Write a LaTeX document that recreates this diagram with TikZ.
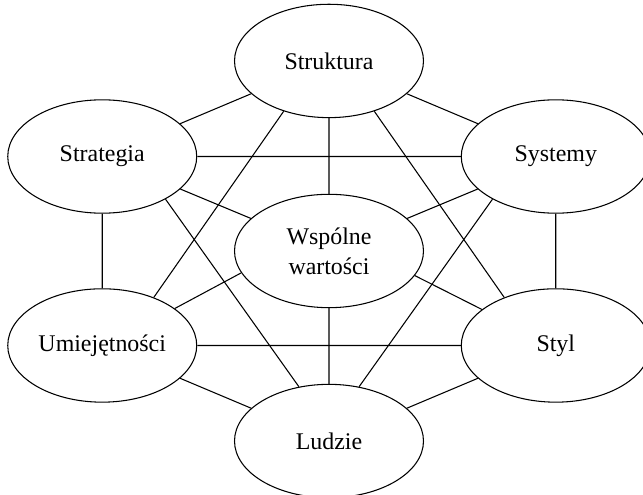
\documentclass[tikz,border=0pt]{standalone}
\usepackage{fontspec}
\setmainfont{Liberation Serif}
\usetikzlibrary{positioning, shapes}

\begin{document}
\begin{tikzpicture}[
            elem/.style={ellipse, draw, line width=0.8pt, minimum width=5cm, minimum height=3cm, inner sep=0pt, align=center, font=\fontsize{18}{22.5}\selectfont},
            link/.style={line width=0.8pt},
        ]
            \useasboundingbox (-8.705,-6.456) rectangle (8.308,6.641);
            \node[elem] (wartosci) at (0,0) {Wspólne\\wartości};
            \node[elem, above=2cm of wartosci] (struktura) {Struktura};
            \node[elem, below=2cm of wartosci] (ludzie) {Ludzie};
            \node[elem] (strategia) at (-6,2.5) {Strategia};
            \node[elem] (systemy) at (6,2.5) {Systemy};
            \node[elem] (umiejetnosci) at (-6,-2.5) {Umiejętności};
            \node[elem] (styl) at (6,-2.5) {Styl};
            % outer ring and spokes
            \draw[link] (struktura) -- (strategia) (struktura) -- (systemy) (struktura) -- (wartosci);
            \draw[link] (strategia) -- (systemy) (strategia) -- (wartosci) (strategia) -- (umiejetnosci);
            \draw[link] (systemy) -- (wartosci) (systemy) -- (styl);
            \draw[link] (umiejetnosci.27) -- (wartosci.194) (umiejetnosci) -- (styl) (umiejetnosci) -- (ludzie);
            \draw[link] (styl.154) -- (wartosci.344) (styl) -- (ludzie) (wartosci) -- (ludzie);
            % long diagonals
            \draw[link] (struktura.228) -- (umiejetnosci.43) (struktura.312) -- (styl.137);
            \draw[link] (strategia.326) -- (ludzie.119) (systemy.214) -- (ludzie.61);
        \end{tikzpicture}
\end{document}
